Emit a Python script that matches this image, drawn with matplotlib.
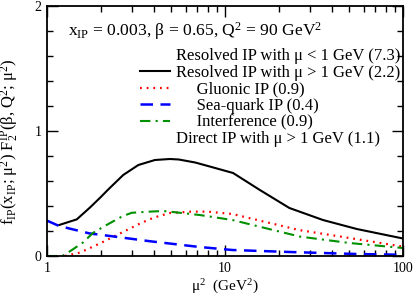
import numpy as np
import matplotlib
matplotlib.use('Agg')
import matplotlib.pyplot as plt
from matplotlib.lines import Line2D
from matplotlib.ticker import MultipleLocator, AutoMinorLocator, LogLocator, NullFormatter, FixedFormatter, FixedLocator

plt.rcParams['font.family'] = ['Liberation Serif', 'DejaVu Serif']
plt.rcParams['mathtext.fontset'] = 'custom'
plt.rcParams['mathtext.rm'] = 'Liberation Serif'
plt.rcParams['mathtext.it'] = 'Liberation Serif:italic'
plt.rcParams['mathtext.default'] = 'rm'

# resolved IP, mu > 1 GeV (black solid)
mu2_res = [1.17, 1.47, 1.75, 2.0, 2.2, 2.68, 3.26, 4.04, 4.9, 5.5, 6.8, 8.5, 11.1, 15.7, 23, 35.5, 55, 100]
f_res = [0.248, 0.293, 0.39, 0.47, 0.53, 0.648, 0.728, 0.768, 0.776, 0.772, 0.748, 0.71, 0.664, 0.528, 0.384, 0.288, 0.216, 0.14]

# gluonic IP (red dotted)
mu2_glu = [1.26, 1.53, 1.98, 2.57, 3.33, 3.96, 4.9, 6.5, 8.0, 11, 26, 50, 100]
f_glu = [0.0, 0.027, 0.10, 0.18, 0.26, 0.306, 0.344, 0.355, 0.355, 0.336, 0.208, 0.144, 0.075]

# sea-quark IP (blue dashed)
mu2_sea = [1.0, 1.17, 1.74, 2.0, 3.79, 7.2, 11, 23, 55, 100]
f_sea = [0.283, 0.24, 0.18, 0.17, 0.118, 0.072, 0.048, 0.032, 0.016, 0.01]

# interference (green dash-dot)
mu2_int = [1.0, 1.22, 1.38, 1.6, 1.81, 2.16, 2.67, 3.0, 3.79, 4.5, 5.1, 7.2, 11, 26.4, 50, 100]
f_int = [0.0, 0.0, 0.048, 0.11, 0.184, 0.248, 0.32, 0.346, 0.355, 0.36, 0.352, 0.328, 0.288, 0.155, 0.104, 0.064]

labels = [
    'Resolved IP with μ < 1 GeV (7.3)',
    'Resolved IP with μ > 1 GeV (2.2)',
    '     Gluonic IP (0.9)',
    '     Sea-quark IP (0.4)',
    '     Interference (0.9)',
    'Direct IP with μ > 1 GeV (1.1)',
]

red_ls = (0, (0.8, 2.2))
blue_ls = (0, (5, 3))
green_ls = (0, (5, 2.5, 1, 2.5))

fig = plt.figure(figsize=(4.15, 2.95), dpi=100)
ax = fig.add_axes([47/415, 39/295, 356/415, 250/295])

ax.plot(mu2_res, f_res, color='black', lw=1.5)
ax.plot(mu2_glu, f_glu, color='red', lw=1.6, linestyle=red_ls)
ax.plot(mu2_sea, f_sea, color='blue', lw=1.8, linestyle=blue_ls)
ax.plot(mu2_int, f_int, color='#009000', lw=1.5, linestyle=green_ls)

ax.set_xscale('log')
ax.set_xlim(1, 100)
ax.set_ylim(0, 2)
ax.xaxis.set_major_locator(FixedLocator([1, 10, 100]))
ax.xaxis.set_major_formatter(FixedFormatter(['1', '10', '100']))
ax.xaxis.set_minor_locator(LogLocator(base=10, subs=np.arange(2, 10)))
ax.xaxis.set_minor_formatter(NullFormatter())
ax.yaxis.set_major_locator(MultipleLocator(1))
ax.yaxis.set_minor_locator(AutoMinorLocator(5))
ax.tick_params(which='both', direction='in', top=True, right=True, width=1, labelsize=10)
ax.tick_params(which='major', length=8, pad=4)
ax.tick_params(which='minor', length=4)
for s in ax.spines.values():
    s.set_linewidth(1.3)

ax.set_xlabel(r'μ$^2$  (GeV$^2$)', fontsize=11, labelpad=2)
ax.set_ylabel(r'f$_{\mathrm{IP}}$(x$_{\mathrm{IP}}$; μ$^2$) F$_2^{\mathrm{IP}}$(β, Q$^2$; μ$^2$)', fontsize=12)
ax.yaxis.set_label_coords(-0.072, 0.456)

ax.text(0.059, 0.883, r'x$_{\mathrm{IP}}$ = 0.003, β = 0.65, Q$^2$ = 90 GeV$^2$', transform=ax.transAxes, fontsize=12.6)

handles = [
    Line2D([], [], linestyle='none'),
    Line2D([], [], color='black', lw=1.5),
    Line2D([], [], color='red', lw=1.6, linestyle=red_ls),
    Line2D([], [], color='blue', lw=1.8, linestyle=blue_ls),
    Line2D([], [], color='#009000', lw=1.5, linestyle=green_ls),
    Line2D([], [], linestyle='none'),
]
ax.legend(handles, labels, loc='upper left', bbox_to_anchor=(0.261, 0.832), frameon=False,
          fontsize=12, handlelength=1.8, handletextpad=0.36, labelspacing=0.04, borderpad=0, borderaxespad=0)

fig.savefig('out.png', dpi=100)
